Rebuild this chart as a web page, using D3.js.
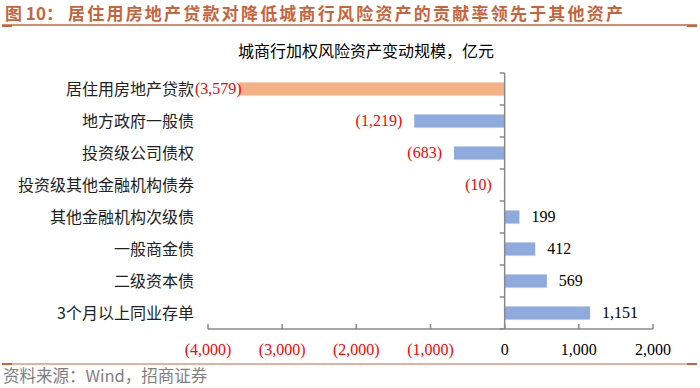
<!DOCTYPE html>
<meta charset="utf-8">
<style>
body { margin: 0; background: #fff; }
svg text { font-family: "Noto Sans CJK SC", sans-serif; }
.num { font-family: "Liberation Serif", "Times New Roman", serif; font-size: 16px; }
</style>
<body>
<svg id="chart" width="700" height="388"></svg>
<script src="https://cdnjs.cloudflare.com/ajax/libs/d3/7.8.5/d3.min.js"></script>
<script>
var categories = ["居住用房地产贷款", "地方政府一般债", "投资级公司债权", "投资级其他金融机构债券",
  "其他金融机构次级债", "一般商金债", "二级资本债", "3个月以上同业存单"];
var values = [-3579, -1219, -683, -10, 199, 412, 569, 1151];
var xTicks = [-4000, -3000, -2000, -1000, 0, 1000, 2000];

var svg = d3.select("#chart");
var accent = "#c8643c";

// header
svg.append("text").attr("x", 5).attr("y", 20)
  .attr("fill", accent).style("font-size", "17px").style("font-weight", "bold")
  .text("图 10：");
svg.append("text").attr("x", 68).attr("y", 20)
  .attr("fill", accent).style("font-size", "17px").style("font-weight", "bold")
  .attr("textLength", 555).attr("lengthAdjust", "spacing")
  .text("居住用房地产贷款对降低城商行风险资产的贡献率领先于其他资产");
svg.append("line").attr("x1", 2).attr("x2", 697).attr("y1", 25).attr("y2", 25)
  .attr("stroke", accent).attr("stroke-width", 1.5);
svg.append("line").attr("x1", 2).attr("x2", 12).attr("y1", 26).attr("y2", 26)
  .attr("stroke", accent).attr("stroke-width", 2);
svg.append("line").attr("x1", 687).attr("x2", 697).attr("y1", 26).attr("y2", 26)
  .attr("stroke", accent).attr("stroke-width", 2);

svg.append("text").attr("x", 366).attr("y", 57).attr("text-anchor", "middle")
  .attr("fill", "#000").style("font-size", "16px")
  .text("城商行加权风险资产变动规模，亿元");

// scales
var x = d3.scaleLinear().domain([-4000, 2000]).range([208, 653]);
var y = d3.scaleBand().domain(categories).range([73, 329]).paddingInner(0.59).paddingOuter(0.295);
var band = d3.scaleBand().domain(categories).range([73, 329]);

// bars
svg.selectAll("rect.bar").data(values).enter().append("rect")
  .attr("class", "bar")
  .attr("x", function(d) { return x(Math.min(0, d)); })
  .attr("width", function(d) { return Math.abs(x(d) - x(0)); })
  .attr("y", function(d, i) { return y(categories[i]); })
  .attr("height", y.bandwidth())
  .attr("fill", function(d, i) { return i == 0 ? "#f4b183" : "#8faadc"; });

// category labels
svg.selectAll("text.cat").data(categories).enter().append("text")
  .attr("class", "cat")
  .attr("x", 194)
  .attr("y", function(d) { return band(d) + band.bandwidth() / 2; })
  .attr("dy", "0.36em")
  .attr("text-anchor", "end")
  .attr("fill", "#222")
  .style("font-size", "16px")
  .text(function(d) { return d; });

function fmt(v) {
  var s = d3.format(",")(Math.abs(v));
  return v < 0 ? "(" + s + ")" : s;
}

// value labels
svg.selectAll("text.val").data(values).enter().append("text")
  .attr("class", "val num")
  .attr("y", function(d, i) { return band(categories[i]) + band.bandwidth() / 2; })
  .attr("dy", "0.34em")
  .attr("fill", function(d) { return d < 0 ? "#ff0000" : "#000"; })
  .text(fmt)
  .each(function(d) {
    var w = this.getComputedTextLength();
    var px;
    if (d < 0) px = Math.max(x(d) - 12 - w, 195);
    else px = x(d) + 12;
    d3.select(this).attr("x", px);
  });

// axes
var axisColor = "#888";
svg.append("line").attr("x1", x(-4000)).attr("x2", x(2000)).attr("y1", 329).attr("y2", 329)
  .attr("stroke", axisColor).attr("stroke-width", 1.5);
svg.selectAll("line.xt").data(xTicks).enter().append("line")
  .attr("x1", function(d) { return x(d); }).attr("x2", function(d) { return x(d); })
  .attr("y1", 324).attr("y2", 329)
  .attr("stroke", axisColor).attr("stroke-width", 1.5);
svg.selectAll("text.xl").data(xTicks).enter().append("text")
  .attr("class", "num")
  .attr("x", function(d) { return x(d); }).attr("y", 355)
  .attr("text-anchor", "middle")
  .attr("fill", function(d) { return d < 0 ? "#ff0000" : "#000"; })
  .text(fmt);

svg.append("line").attr("x1", x(0)).attr("x2", x(0)).attr("y1", 73).attr("y2", 329)
  .attr("stroke", axisColor).attr("stroke-width", 1.5);
var yTicks = categories.map(function(c) { return band(c); }).concat([329]);
svg.selectAll("line.yt").data(yTicks).enter().append("line")
  .attr("x1", x(0) - 5).attr("x2", x(0))
  .attr("y1", function(d) { return d; }).attr("y2", function(d) { return d; })
  .attr("stroke", axisColor).attr("stroke-width", 1.5);

// footer
svg.append("line").attr("x1", 2).attr("x2", 697).attr("y1", 364).attr("y2", 364)
  .attr("stroke", accent).attr("stroke-width", 1.2);
svg.append("line").attr("x1", 2).attr("x2", 12).attr("y1", 364).attr("y2", 364)
  .attr("stroke", accent).attr("stroke-width", 2);
svg.append("line").attr("x1", 687).attr("x2", 697).attr("y1", 364).attr("y2", 364)
  .attr("stroke", accent).attr("stroke-width", 2);
svg.append("text").attr("x", 3).attr("y", 382)
  .attr("fill", "#7f7f7f").style("font-size", "16.5px")
  .text("资料来源：Wind，招商证券");
</script>
</body>
